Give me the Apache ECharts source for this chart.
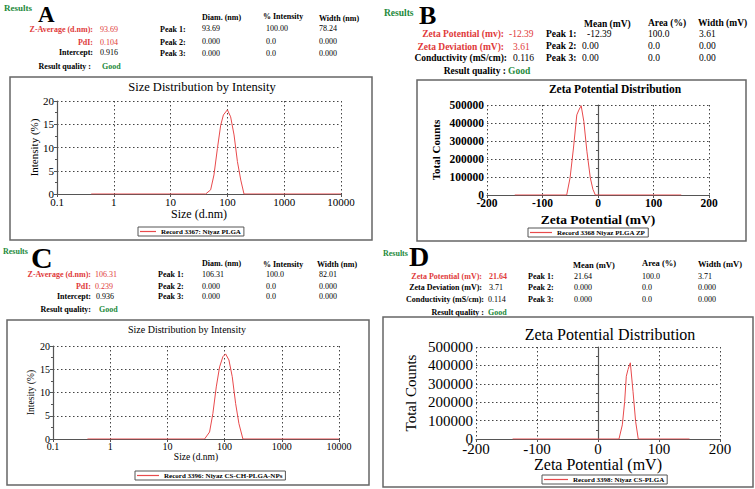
<!DOCTYPE html>
<html><head><meta charset="utf-8">
<script src="https://cdn.jsdelivr.net/npm/echarts@6/dist/echarts.min.js"></script>
<style>html,body{margin:0;padding:0;background:#fff}#c{width:755px;height:489px}</style>
</head><body><div id="c"></div>
<script>
// ---- Data ----
const sizesA = [0.4, 41.4, 50.7, 58, 66.7, 76.2, 85, 100, 114, 131, 150, 172, 196, 10000];
const intensityA = [0, 0, 0.9, 4.1, 9.8, 14.8, 17.0, 18.1, 16.6, 12.7, 7.0, 3.0, 0, 0];
const zetaB = [-150, -56.4, -50.3, -44.2, -38.2, -34.5, -30.3, -25.5, -20, -13.9, -9.1, -4.8, 150];
const countsB = [0, 0, 96000, 261000, 445000, 472000, 496000, 408000, 243000, 96000, 31000, 0, 0];
const sizesC = [0.4, 44.6, 54.6, 62.4, 71.5, 81.7, 93.4, 104, 119, 136, 156, 178, 209, 10000];
const intensityC = [0, 0, 1.5, 5.5, 11.2, 15.5, 17.7, 18.3, 17.0, 13.4, 7.6, 3.3, 0, 0];
const zetaD = [-140, 34.4, 39.9, 43.7, 46.4, 49.2, 53, 57.4, 61.7, 66, 150];
const countsD = [0, 0, 77000, 204000, 341000, 378000, 414000, 259000, 95000, 0, 0];

const recordNames = ['Record 3367: Niyaz PLGA', 'Record 3368 Niyaz PLGA ZP', 'Record 3396: Niyaz CS-CH-PLGA-NPs', 'Record 3398: Niyaz CS-PLGA'];
const panelTitles = ['Size Distribution by Intensity', 'Zeta Potential Distribution', 'Size Distribution by Intensity', 'Zeta Potential Distribution'];
const xNames = ['Size (d.nm)', 'Zeta Potential (mV)', 'Size (d.nm)', 'Zeta Potential (mV)'];
const yNames = ['Intensity (%)', 'Total Counts', 'Intesity (%)', 'Total Counts'];

// Header tables
const tableA = [['93.69', '100.00', '78.24'], ['0.000', '0.0', '0.000'], ['0.000', '0.0', '0.000']];
const tableB = [['-12.39', '100.0', '3.61'], ['0.00', '0.0', '0.00'], ['0.00', '0.0', '0.00']];
const tableC = [['106.31', '100.0', '82.01'], ['0.000', '0.0', '0.000'], ['0.000', '0.0', '0.000']];
const tableD = [['21.64', '100.0', '3.71'], ['0.000', '0.0', '0.000'], ['0.000', '0.0', '0.000']];

// ---- Rendering ----
const FONT = 'Liberation Serif, Times New Roman, serif';
const RED = '#e03a3a', GREEN = '#1d8a3c', BLACK = '#000000';
const LINE = '#e84a4c';
const chart = echarts.init(document.getElementById('c'), null, {renderer: 'svg'});

const g = [];
function T(text, x, y, size, opts) {
  opts = opts || {};
  g.push({type: 'text', x: x, y: y, silent: true, style: {
    text: text, fill: opts.color || BLACK, align: opts.align || 'left', verticalAlign: 'middle',
    fontFamily: FONT, fontSize: size, fontWeight: opts.bold === false ? 'normal' : 'bold'
  }});
}
function box(x, y, w, h) {
  g.push({type: 'rect', shape: {x: x, y: y, width: w, height: h}, style: {fill: 'none', stroke: '#666', lineWidth: 1.5}, silent: true});
}

// Panel A header
T('Results', 4, 8, 9, {color: GREEN});
T('A', 38, 14, 23);
T('Z-Average (d.nm):', 93, 29, 8, {align: 'right', color: RED});
T('PdI:', 93, 42, 8, {align: 'right', color: RED});
T('Intercept:', 93, 52, 8, {align: 'right'});
T('Result quality :', 91, 66, 8, {align: 'right'});
T('93.69', 100, 29, 8, {color: RED, bold: false});
T('0.104', 100, 42, 8, {color: RED, bold: false});
T('0.916', 100, 52, 8, {bold: false});
T('Good', 102, 66, 8, {color: GREEN});
['Peak 1:', 'Peak 2:', 'Peak 3:'].forEach((p, i) => T(p, 160, [29, 42, 53][i], 8));
T('Diam. (nm)', 202, 17, 8); T('% Intensity', 263, 16, 8); T('Width (nm)', 319, 18, 8);
tableA.forEach((row, r) => row.forEach((v, c) => T(v, [202, 266, 319][c], [28, 41, 53][r], 8, {bold: false})));

// Panel B header
T('Results', 384, 13, 9.5, {color: GREEN});
T('B', 419, 15, 26);
T('Zeta Potential (mv):', 504, 34, 9.5, {align: 'right', color: RED});
T('Zeta Deviation (mV):', 504, 47, 9.5, {align: 'right', color: RED});
T('Conductivity (mS/cm):', 507, 58, 9.5, {align: 'right'});
T('Result quality :', 506, 71, 9.5, {align: 'right'});
T('-12.39', 509, 34, 9.5, {color: RED, bold: false});
T('3.61', 513, 47, 9.5, {color: RED, bold: false});
T('0.116', 513, 58, 9.5, {bold: false});
T('Good', 508, 71, 9.5, {color: GREEN});
['Peak 1:', 'Peak 2:', 'Peak 3:'].forEach((p, i) => T(p, 546, [34, 46, 58][i], 9.5));
T('Mean (mV)', 584, 24, 9.5); T('Area (%)', 648, 23, 9.5); T('Width (mV)', 698, 23, 9.5);
tableB.forEach((row, r) => row.forEach((v, c) => T(v, [r === 0 ? 587 : 582, 648, 699][c], [34, 46, 58][r], 9.5, {bold: false})));

// Panel C header
T('Results', 3, 251, 8, {color: GREEN});
T('C', 31, 257, 30);
T('Z-Average (d.nm):', 91, 274, 8, {align: 'right', color: RED});
T('PdI:', 91, 286, 8, {align: 'right', color: RED});
T('Intercept:', 91, 296, 8, {align: 'right'});
T('Result quality:', 91, 309, 8, {align: 'right'});
T('106.31', 95, 274, 8, {color: RED, bold: false});
T('0.239', 95, 286, 8, {color: RED, bold: false});
T('0.936', 96, 296, 8, {bold: false});
T('Good', 99, 309, 8, {color: GREEN});
['Peak 1:', 'Peak 2:', 'Peak 3:'].forEach((p, i) => T(p, 158, [274, 286, 296][i], 8));
T('Diam. (nm)', 202, 263, 8); T('% Intensity', 263, 264, 8); T('Width (nm)', 317, 264, 8);
tableC.forEach((row, r) => row.forEach((v, c) => T(v, [202, 266, 319][c], [274, 286, 296][r], 8, {bold: false})));

// Panel D header
T('Results', 383, 253, 8, {color: GREEN});
T('D', 409, 256, 28);
T('Zeta Potential (mV):', 482, 276, 8, {align: 'right', color: RED});
T('Zeta Deviation (mV):', 482, 287, 8, {align: 'right'});
T('Conductivity (mS/cm):', 484, 299, 8, {align: 'right'});
T('Result quality :', 484, 312, 8, {align: 'right'});
T('21.64', 489, 276, 8, {color: RED});
T('3.71', 489, 287, 8, {bold: false});
T('0.114', 488, 299, 8, {bold: false});
T('Good', 488, 312, 8, {color: GREEN});
['Peak 1:', 'Peak 2:', 'Peak 3:'].forEach((p, i) => T(p, 528, [276, 287, 299][i], 8));
T('Mean (mV)', 573, 265, 8.5); T('Area (%)', 642, 263, 8.5); T('Width (mV)', 698, 264, 8.5);
tableD.forEach((row, r) => row.forEach((v, c) => T(v, [574, 642, 698][c], [276, 287, 299][r], 8, {bold: false})));

// Panel frames
box(10, 77, 362, 163);
box(417, 80, 329, 161);
box(7, 320, 362, 165);
box(383, 317, 370, 170);

const grids = [
  {left: 57, top: 101, width: 284, height: 93},
  {left: 487, top: 105, width: 222, height: 90},
  {left: 53, top: 346, width: 286, height: 93},
  {left: 476, top: 347, width: 244, height: 92}
];
const fs = [11, 11.5, 10, 15];
const bold = ['normal', 'bold', 'normal', 'normal'];
const axisLineStyle = {color: '#555', width: 1.2};
const split = {show: true, lineStyle: {color: '#444', type: [1.5, 2.5], width: 1}};
const plain = v => String(v);

const xAxes = [0, 1, 2, 3].map(i => {
  const isLog = (i % 2 === 0);
  const ax = {
    gridIndex: i, type: isLog ? 'log' : 'value', logBase: 10,
    min: isLog ? 0.1 : -200, max: isLog ? 10000 : 200,
    name: xNames[i], nameLocation: 'middle', nameGap: [12, 17, 12, 15][i],
    nameTextStyle: {fontFamily: FONT, fontSize: [12, 13.5, 9.5, 16][i], color: BLACK, fontWeight: bold[i]},
    axisLine: {show: true, onZero: false, lineStyle: axisLineStyle},
    axisTick: {show: true, length: 3, lineStyle: {color: '#555'}},
    axisLabel: {fontFamily: FONT, fontSize: fs[i], color: BLACK, margin: 2, fontWeight: bold[i], formatter: plain},
    splitLine: split
  };
  if (!isLog) ax.interval = 100;
  return ax;
});
const yAxes = [0, 1, 2, 3].map(i => {
  const isSize = (i % 2 === 0);
  return {
    gridIndex: i, type: 'value', min: 0, max: isSize ? 20 : 500000, interval: isSize ? 5 : 100000,
    name: yNames[i], nameLocation: 'middle', nameGap: [16, 46, 13, 58][i],
    nameTextStyle: {fontFamily: FONT, fontSize: [11, 11, 9.5, 15][i], color: BLACK, fontWeight: bold[i]},
    axisLine: {show: true, lineStyle: axisLineStyle},
    axisTick: {show: true, length: 3, lineStyle: {color: '#555'}},
    minorTick: {show: true, splitNumber: 2, length: 2, lineStyle: {color: '#555'}},
    axisLabel: {fontFamily: FONT, fontSize: fs[i], color: BLACK, margin: 3, fontWeight: bold[i], formatter: plain},
    splitLine: split
  };
});

const seriesData = [
  sizesA.map((s, k) => [s, intensityA[k]]),
  zetaB.map((s, k) => [s, countsB[k]]),
  sizesC.map((s, k) => [s, intensityC[k]]),
  zetaD.map((s, k) => [s, countsD[k]])
];
const series = seriesData.map((d, i) => ({
  type: 'line', name: recordNames[i], xAxisIndex: i, yAxisIndex: i, data: d,
  showSymbol: false, symbol: 'none', lineStyle: {color: LINE, width: 1}, itemStyle: {color: LINE},
  animation: false, z: 3
}));

const titles = [
  {text: panelTitles[0], left: 202, top: 80, size: 12.5, weight: 'normal'},
  {text: panelTitles[1], left: 615, top: 83, size: 11.5, weight: 'bold'},
  {text: panelTitles[2], left: 187, top: 324, size: 10, weight: 'normal'},
  {text: panelTitles[3], left: 610, top: 326, size: 16, weight: 'normal'}
].map(t => ({text: t.text, left: t.left, top: t.top, textAlign: 'center', padding: 0,
  textStyle: {fontFamily: FONT, fontSize: t.size, fontWeight: t.weight, color: BLACK}}));

const legends = [
  {left: 138, top: 227, w: 16},
  {left: 528, top: 228, w: 22},
  {left: 135, top: 471, w: 22},
  {left: 542, top: 475, w: 24}
].map((l, i) => ({
  data: [{name: recordNames[i], itemStyle: {color: LINE}}], left: l.left, top: l.top, padding: [1, 3, 1, 2],
  borderColor: '#555', borderWidth: 1, icon: 'rect', itemWidth: l.w, itemHeight: 1.2,
  itemGap: 4, selectedMode: false,
  textStyle: {fontFamily: FONT, fontSize: 7, fontWeight: 'bold', color: BLACK}
}));

chart.setOption({
  animation: false,
  backgroundColor: '#fff',
  title: titles,
  legend: legends,
  grid: grids,
  xAxis: xAxes,
  yAxis: yAxes,
  series: series,
  graphic: g
});
</script></body></html>
